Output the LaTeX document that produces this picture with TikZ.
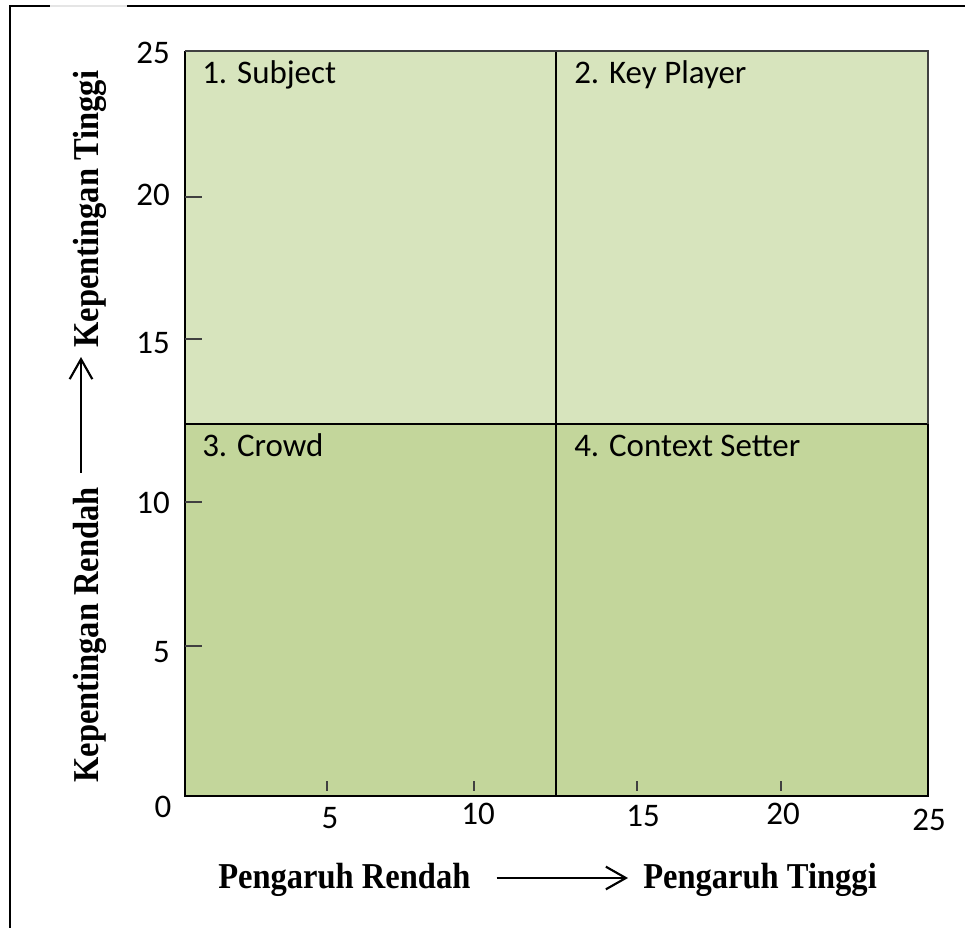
\documentclass[tikz,border=0pt]{standalone}
\usepackage{fontspec}
\setmainfont{Liberation Serif}
\newfontfamily\calibri{Carlito}
\usetikzlibrary{arrows.meta}
\definecolor{quadhigh}{HTML}{D7E4BD}
\definecolor{quadlow}{HTML}{C3D69B}
\definecolor{tickgray}{HTML}{404040}
\begin{document}
\begin{tikzpicture}[x=0.75pt,y=-0.75pt,
  ticklabel/.style={font=\calibri\fontsize{24.7}{28}\selectfont, inner sep=0pt},
  quadlabel/.style={font=\calibri\fontsize{24.7}{28}\selectfont, inner sep=0pt, anchor=base west},
  axistitle/.style={font=\bfseries\fontsize{24.4}{28}\selectfont, inner sep=0pt, anchor=base west},
  axarrow/.style={line width=1.6pt, -{Straight Barb[length=15pt,width=17pt]}},
  tickmark/.style={line width=1.1pt, tickgray},
]
\useasboundingbox (0,0) rectangle (965,928);

% page frame (left and top rules)
\draw[line width=1.6pt] (10,928) -- (10,6) -- (50,6);
\draw[line width=1.6pt, gray!20] (50,6) -- (127,6);
\draw[line width=1.6pt] (127,6) -- (965,6);

% quadrant fills
\fill[quadhigh] (185,51) rectangle (928,424);
\fill[quadlow] (185,424) rectangle (928,796);

% quadrant dividers and plot border
\draw[line width=1.2pt] (556,51) -- (556,796);
\draw[line width=1.2pt] (185,424) -- (928,424);
\draw[line width=1.6pt] (928,424) -- (928,796) -- (185,796) -- (185,51);
\draw[line width=1.1pt, black!75] (185,51) -- (928,51) -- (928,424);

% tick marks
\foreach \y in {197,339,502,646} \draw[tickmark] (185,\y) -- (202,\y);
\foreach \x in {327,474,637,781} \draw[tickmark] (\x,781) -- (\x,791);

% y-axis numbers
\node[ticklabel, anchor=east] (y25) at (170,53) {25};
\node[ticklabel, anchor=east] (y20) at (170,195) {20};
\node[ticklabel, anchor=east] (y15) at (170,343) {15};
\node[ticklabel, anchor=east] (y10) at (170,503) {10};
\node[ticklabel, anchor=east] (y5) at (170,652) {5};

% x-axis numbers
\node[ticklabel] (x0) at (163,807) {0};
\node[ticklabel] (x5) at (330,818) {5};
\node[ticklabel] (x10) at (478,814) {10};
\node[ticklabel] (x15) at (643,816) {15};
\node[ticklabel] (x20) at (783,814) {20};
\node[ticklabel] (x25) at (929,820) {25};

% quadrant names
\node[quadlabel] (q1) at (202,83) {1. Subject};
\node[quadlabel] (q2) at (574,83) {2. Key Player};
\node[quadlabel] (q3) at (202,456) {3. Crowd};
\node[quadlabel] (q4) at (574,456) {4. Context Setter};

% horizontal axis title
\node[axistitle] (pr) at (218,888) {\scalebox{1}[1.12]{Pengaruh Rendah}};
\node[axistitle] (pt) at (643,888) {\scalebox{1}[1.12]{Pengaruh Tinggi}};
\draw[axarrow] ([shift={(26,-10)}]pr.base east) -- ([shift={(-15,-10)}]pt.base west);

% vertical axis title
\node[axistitle, rotate=90] (kr) at (98,783) {\scalebox{1}[1.12]{Kepentingan Rendah}};
\node[axistitle, rotate=90] (kt) at (98,348) {\scalebox{1}[1.12]{Kepentingan Tinggi}};
\draw[axarrow] ([shift={(-17,-14)}]kr.base east) -- ([shift={(-17,9)}]kt.base west);
\end{tikzpicture}
\end{document}
